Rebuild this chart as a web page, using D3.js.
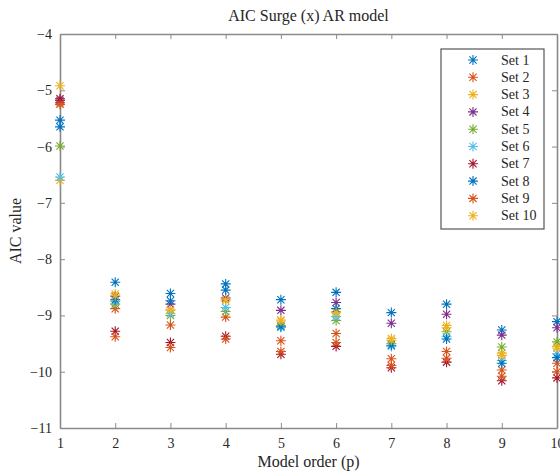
<!DOCTYPE html>
<html><head><meta charset="utf-8">
<script src="https://cdn.jsdelivr.net/npm/d3@7"></script>
<style>body{margin:0;background:#fff;} svg{display:block;}</style>
</head><body>
<svg id="c" width="560" height="472"></svg>
<script>
const orders = [1,2,3,4,5,6,7,8,9,10];
const seriesNames = ["Set 1","Set 2","Set 3","Set 4","Set 5","Set 6","Set 7","Set 8","Set 9","Set 10"];
const set1  = [-5.53,-8.41,-8.61,-8.44,-8.72,-8.59,-8.95,-8.80,-9.26,-9.11];
const set2  = [-5.22,-8.88,-9.17,-9.03,-9.45,-9.32,-9.77,-9.64,-9.97,-9.85];
const set3  = [-6.60,-8.62,-8.89,-8.74,-9.08,-8.93,-9.41,-9.18,-9.67,-9.55];
const set4  = [-5.18,-8.66,-8.80,-8.69,-8.91,-8.77,-9.14,-8.98,-9.35,-9.22];
const set5  = [-5.99,-8.80,-9.00,-8.93,-9.18,-9.09,-9.50,-9.29,-9.56,-9.47];
const set6  = [-6.54,-8.75,-8.97,-8.86,-9.21,-9.02,-9.55,-9.38,-9.80,-9.68];
const set7  = [-5.15,-9.28,-9.48,-9.37,-9.69,-9.55,-9.93,-9.83,-10.16,-10.11];
const set8  = [-5.65,-8.72,-8.74,-8.55,-9.20,-8.88,-9.53,-9.42,-9.85,-9.75];
const set9  = [-5.25,-9.38,-9.57,-9.42,-9.64,-9.48,-9.89,-9.76,-10.08,-10.00];
const set10 = [-4.92,-8.65,-8.91,-8.72,-9.10,-8.95,-9.44,-9.22,-9.71,-9.58];
const allSets = [set1,set2,set3,set4,set5,set6,set7,set8,set9,set10];
const colors = ["#0072BD","#D95319","#EDB120","#7E2F8E","#77AC30","#4DBEEE","#A2142F","#0072BD","#D95319","#EDB120"];
const xTicks = [1,2,3,4,5,6,7,8,9,10];
const yTicks = [-4,-5,-6,-7,-8,-9,-10,-11];

const svg = d3.select("#c");
const L=60, R=557, T=34, B=428;
const x = d3.scaleLinear().domain([1,10]).range([L,R]);
const y = d3.scaleLinear().domain([-11,-4]).range([B,T]);
const font = "'Liberation Serif', 'DejaVu Serif', serif";
const axisCol = "#8a8a8a", textCol = "#262626";

function styleAxis(g){
  g.select(".domain").attr("stroke",axisCol).attr("stroke-width",1.6);
  g.selectAll(".tick line").attr("stroke",axisCol).attr("stroke-width",1);
  g.selectAll(".tick text").attr("fill",textCol).style("font-family",font).style("font-size","14px");
}
const gx = svg.append("g").attr("transform",`translate(0,${B})`)
  .call(d3.axisBottom(x).tickValues(xTicks).tickSizeInner(-5).tickSizeOuter(0).tickPadding(10).tickFormat(d3.format("d")));
styleAxis(gx);
const gxt = svg.append("g").attr("transform",`translate(0,${T})`)
  .call(d3.axisTop(x).tickValues(xTicks).tickSizeInner(-5).tickSizeOuter(0).tickFormat(""));
styleAxis(gxt);
const gy = svg.append("g").attr("transform",`translate(${L},0)`)
  .call(d3.axisLeft(y).tickValues(yTicks).tickSizeInner(-5).tickSizeOuter(0).tickPadding(8).tickFormat(d3.format("d")));
styleAxis(gy);
const gyr = svg.append("g").attr("transform",`translate(${R},0)`)
  .call(d3.axisRight(y).tickValues(yTicks).tickSizeInner(-5).tickSizeOuter(0).tickFormat(""));
styleAxis(gyr);

function star(g, cx, cy, col){
  const a=5, b=3.6;
  g.append("path")
   .attr("d",`M${cx-a},${cy}H${cx+a}M${cx},${cy-a}V${cy+a}M${cx-b},${cy-b}L${cx+b},${cy+b}M${cx-b},${cy+b}L${cx+b},${cy-b}`)
   .attr("stroke",col).attr("stroke-width",1.1).attr("fill","none");
}
const pts = svg.append("g");
allSets.forEach((s,i)=>{
  s.forEach((v,j)=> star(pts, x(orders[j]), y(v), colors[i]));
});

svg.append("text").attr("x",(L+R)/2).attr("y",21).attr("text-anchor","middle")
  .attr("fill",textCol).style("font-family",font).style("font-size","16px").text("AIC Surge (x) AR model");
svg.append("text").attr("x",(L+R)/2).attr("y",467).attr("text-anchor","middle")
  .attr("fill",textCol).style("font-family",font).style("font-size","16px").text("Model order (p)");
svg.append("text").attr("transform",`translate(21,${(T+B)/2}) rotate(-90)`).attr("text-anchor","middle")
  .attr("fill",textCol).style("font-family",font).style("font-size","16px").text("AIC value");

const lg = svg.append("g");
lg.append("rect").attr("x",441).attr("y",49).attr("width",103).attr("height",180)
  .attr("fill","#fff").attr("stroke","#555").attr("stroke-width",1.2);
seriesNames.forEach((n,i)=>{
  const yy = 60 + i*17.3;
  star(lg, 473, yy, colors[i]);
  lg.append("text").attr("x",501).attr("y",yy+4.5).attr("fill",textCol)
    .style("font-family",font).style("font-size","14px").text(n);
});
</script>
</body></html>
